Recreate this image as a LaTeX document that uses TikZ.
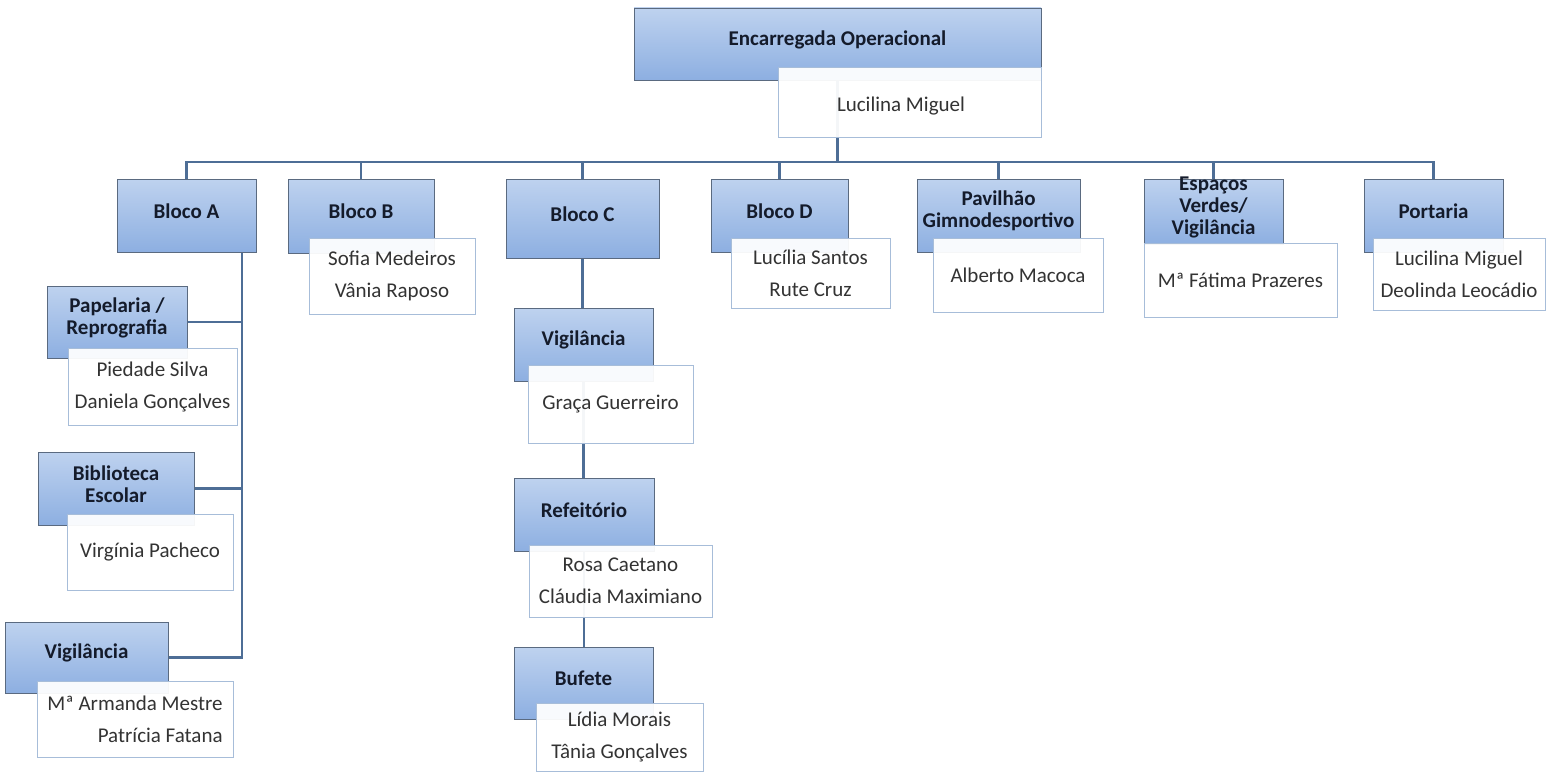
\documentclass[tikz,border=0pt]{standalone}
\usepackage{fontspec}
\setmainfont{Carlito}
\usetikzlibrary{calc}
\pgfdeclarelayer{bg}
\pgfsetlayers{bg,main}
\definecolor{conncol}{HTML}{4E6E96}
\definecolor{bluetop}{HTML}{BED2EF}
\definecolor{bluebot}{HTML}{8DAFE1}
\definecolor{blueline}{HTML}{5A6A80}
\definecolor{whiteline}{HTML}{A7BDD9}
\definecolor{hdrtext}{HTML}{141B2B}
\definecolor{nametext}{HTML}{333333}
\tikzset{
  bluebx/.style={draw=blueline, line width=0.8pt, top color=bluetop, bottom color=bluebot, inner sep=0pt, outer sep=0pt},
  whitebx/.style={draw=whiteline, line width=1pt, fill=white, fill opacity=0.94, text opacity=1, text=nametext, font=\fontsize{21}{32}\selectfont, inner sep=0pt, outer sep=0pt},
  hdr/.style={font=\bfseries\fontsize{21}{22}\selectfont, text=hdrtext, align=center, inner sep=0pt},
  conn/.style={draw=conncol, line width=2.2pt},
}
% name, x1, y1, x2, y2, text
\newcommand\bluebox[6]{%
  \node[bluebx, minimum width={#4pt-#2pt}, minimum height={#5pt-#3pt}] (#1) at ({(#2+#4)/2},{(#3+#5)/2}) {};
  \node[hdr] (#1-t) at ([yshift=4.5pt]#1.center) {#6};}
% name, x1, y1, x2, y2, align, text
\newcommand\whitebox[7]{%
  \node[whitebx, align=#6, minimum width={#4pt-#2pt}, minimum height={#5pt-#3pt}] (#1) at ({(#2+#4)/2},{(#3+#5)/2}) {#7};}
\begin{document}
\begin{tikzpicture}[x=1pt,y=-1pt]
\useasboundingbox (0,0) rectangle (1546,773);

% top
\bluebox{enc}{634}{8}{1041}{80}{Encarregada Operacional}
\whitebox{encw}{778}{68}{1041}{137}{center}{}
\node[font=\fontsize{21}{32}\selectfont, text=nametext, inner sep=0pt] (encw-t) at (901,106) {Lucilina Miguel};

% level 1
\bluebox{bA}{117}{179}{256}{252}{Bloco A}
\bluebox{bB}{288}{179}{434}{253}{Bloco B}
\whitebox{bBw}{309}{238}{475}{314}{center}{Sofia Medeiros\\Vânia Raposo}
\bluebox{bC}{506}{179}{659}{258}{Bloco C}
\bluebox{bD}{711}{179}{848}{252}{Bloco D}
\whitebox{bDw}{731}{238}{890}{308}{center}{Lucília Santos\\Rute Cruz}
\bluebox{pav}{917}{179}{1080}{252}{Pavilhão\\Gimnodesportivo}
\whitebox{pavw}{933}{238}{1103}{312}{center}{Alberto Macoca}
\bluebox{esp}{1144}{179}{1283}{244}{Espaços\\Verdes/\\Vigilância}
\whitebox{espw}{1144}{243}{1337}{317}{center}{Mª Fátima Prazeres}
\bluebox{por}{1364}{179}{1503}{252}{Portaria}
\whitebox{porw}{1373}{238}{1545}{310}{center}{Lucilina Miguel\\Deolinda Leocádio}

% Bloco A children
\bluebox{pap}{47}{286}{187}{358}{Papelaria /\\Reprografia}
\whitebox{papw}{68}{348}{237}{425}{center}{Piedade Silva\\Daniela Gonçalves}
\bluebox{bib}{38}{452}{194}{525}{Biblioteca\\Escolar}
\whitebox{bibw}{67}{514}{233}{590}{center}{Virgínia Pacheco}
\bluebox{vA}{5}{622}{168}{693}{Vigilância}
\whitebox{vAw}{37}{681}{233}{757}{right}{Mª Armanda Mestre\\Patrícia Fatana}

% Bloco C children
\bluebox{vC}{514}{308}{653}{381}{Vigilância}
\whitebox{vCw}{528}{365}{693}{443}{center}{Graça Guerreiro}
\bluebox{ref}{514}{478}{654}{551}{Refeitório}
\whitebox{refw}{529}{545}{712}{617}{center}{Rosa Caetano\\Cláudia Maximiano}
\bluebox{buf}{514}{647}{653}{719}{Bufete}
\whitebox{bufw}{536}{703}{703}{771}{center}{Lídia Morais\\Tânia Gonçalves}

% connectors
\coordinate (bus) at (837.5,162);
\coordinate (atr) at (242,252);
\begin{pgfonlayer}{bg}
\fill[white] (0,0) rectangle (1546,773);
\draw[conn] (enc.south) -- (bus);
\foreach \c in {bA,bB,bC,bD,pav,esp,por}{
  \draw[conn] (bus) -| (\c.north);
}
\draw[conn] (atr) |- (vA.east);
\draw[conn] (atr |- pap.east) -- (pap.east);
\draw[conn] (atr |- bib.east) -- (bib.east);
\draw[conn] (bC.south) -- (bC.south |- vC.north);
\draw[conn] (vC.south) -- (vC.south |- ref.north);
\draw[conn] (ref.south) -- (ref.south |- buf.north);
\end{pgfonlayer}
\end{tikzpicture}
\end{document}
